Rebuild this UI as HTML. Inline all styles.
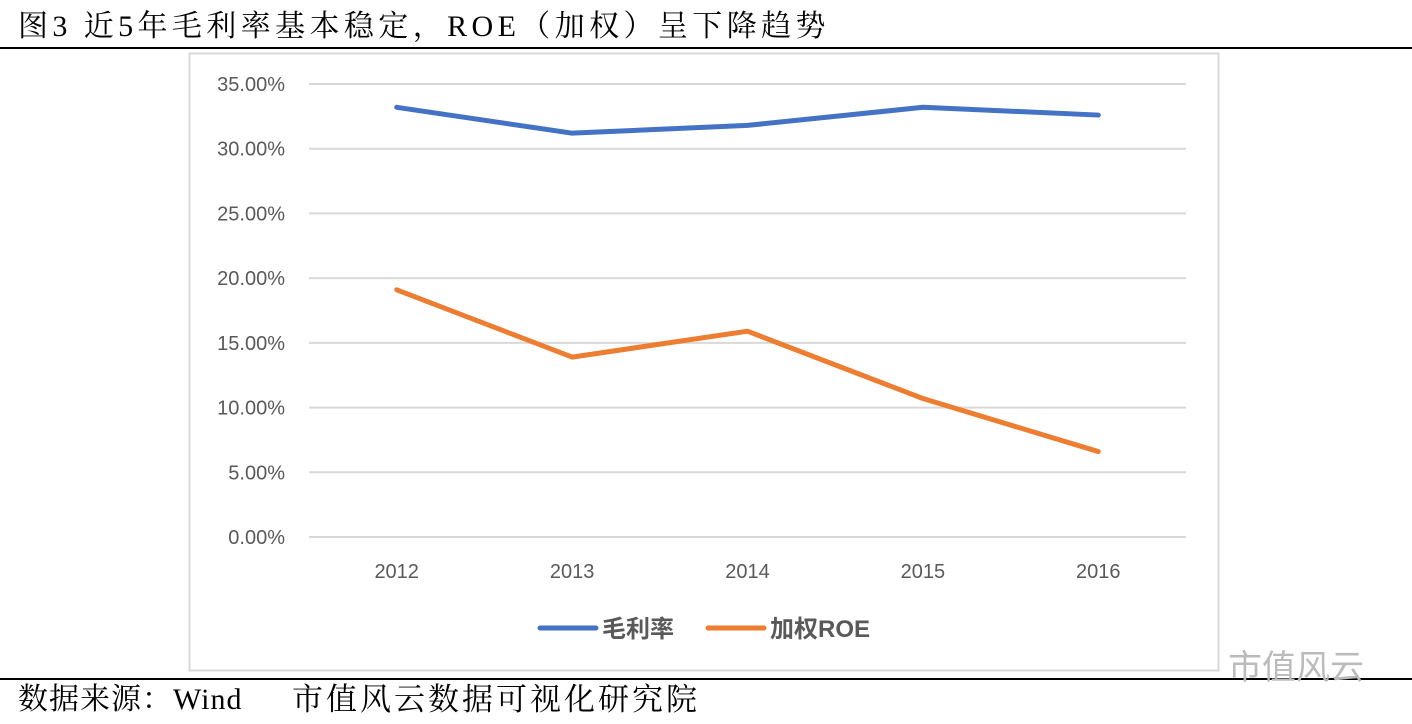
<!DOCTYPE html>
<html><head><meta charset="utf-8"><style>
body{margin:0;width:1412px;height:724px;background:#fff;overflow:hidden;position:relative;font-family:"Liberation Serif","Noto Serif CJK SC",serif}
.t{position:absolute;color:#000;white-space:pre}
</style></head><body>
<div class="t" style="left:18px;top:8px;font-size:30px;line-height:38px;letter-spacing:4.4px">图3 近5年毛利率基本稳定，ROE（加权）呈下降趋势</div>
<div style="position:absolute;left:0;top:47px;width:1412px;height:2px;background:#000"></div>
<svg id="c" style="position:absolute;left:0;top:0" width="1412" height="724"></svg>
<div style="position:absolute;left:0;top:678px;width:1412px;height:2px;background:#000"></div>
<div class="t" style="left:18px;top:681px;font-size:30px;line-height:38px;letter-spacing:1px">数据来源：Wind</div>
<div class="t" style="left:292px;top:681px;font-size:31px;line-height:38px;letter-spacing:3px">市值风云数据可视化研究院</div>
<div class="t" style="left:1228px;top:640px;font-size:34px;color:#bbb;font-family:'Liberation Sans','Noto Sans CJK SC',sans-serif">市值风云</div>
<script>
const categories=["2012","2013","2014","2015","2016"];
const grossMargin=[33.2,31.2,31.8,33.2,32.6];
const roe=[19.1,13.9,15.9,10.7,6.6];
const yTicks=[0,5,10,15,20,25,30,35];
const NS="http://www.w3.org/2000/svg";
const svg=document.getElementById('c');
function el(t,a){const e=document.createElementNS(NS,t);for(const k in a)e.setAttribute(k,a[k]);svg.appendChild(e);return e;}
const x0=309,x1=1186,y0=537,y1=84;
const y=v=>y0-(v/35)*(y0-y1);
const x=i=>x0+(i+0.5)*(x1-x0)/categories.length;
const fr=el('rect',{x:189.5,y:53.5,width:1029,height:617,fill:'none',stroke:'#d9d9d9','stroke-width':2});


yTicks.forEach(v=>{
 const g=el('line',{x1:x0,x2:x1,y1:y(v),y2:y(v),stroke:'#d9d9d9','stroke-width':2});
 
 
 const t=el('text',{x:285,y:y(v)+7,'text-anchor':'end','font-size':20,fill:'#595959','font-family':'Liberation Sans, sans-serif'});
 t.textContent=v.toFixed(2)+'%';
 
 
});
categories.forEach((c,i)=>{
 const t=el('text',{x:x(i),y:578,'text-anchor':'middle','font-size':20,fill:'#595959','font-family':'Liberation Sans, sans-serif'});
 t.textContent=c;
 
 
});
function series(d,col,name){
 const p=el('polyline',{points:d.map((v,i)=>x(i)+','+y(v)).join(' '),fill:'none',stroke:col,'stroke-width':5,'stroke-linejoin':'round','stroke-linecap':'round'});
 
 
}
series(grossMargin,'#4472c4','gross-margin-line');
series(roe,'#ed7d31','roe-line');
[[540,'#4472c4','毛利率','legend-gross-margin'],[708,'#ed7d31','加权ROE','legend-roe']].forEach(([lx,col,txt,nm])=>{
 const l=el('line',{x1:lx,x2:lx+56,y1:628,y2:628,stroke:col,'stroke-width':5,'stroke-linecap':'round'});
 
 
 const t=el('text',{x:lx+62,y:637,'font-size':24,'font-weight':'bold',fill:'#595959','font-family':'Liberation Sans, Noto Sans CJK SC, sans-serif'});
 t.textContent=txt;
 
 
});
</script>
</body></html>
